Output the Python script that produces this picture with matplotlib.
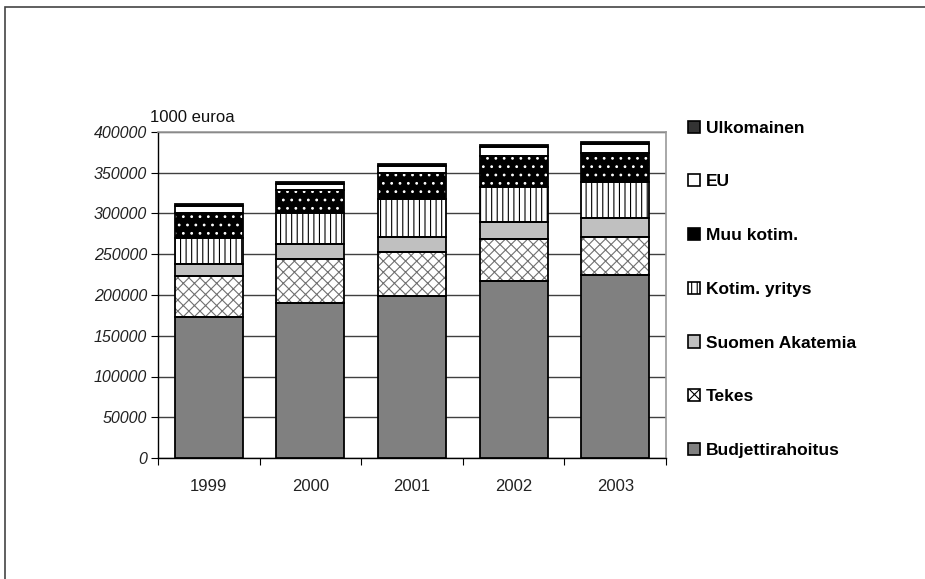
import numpy as np
import matplotlib
matplotlib.use("Agg")
import matplotlib.pyplot as plt
from matplotlib.patches import Rectangle, Patch

years = ["1999", "2000", "2001", "2002", "2003"]
budjetti = [173000, 190000, 199000, 217500, 224500]
tekes = [50500, 54000, 53500, 51000, 47000]
akatemia = [14500, 18800, 19000, 21200, 22600]
kotim_yritys = [31500, 37500, 46000, 43000, 44200]
muu_kotim = [31500, 28500, 32700, 37700, 35600]
eu = [8200, 7400, 8200, 10600, 11400]
ulkomainen = [2100, 2800, 2800, 2500, 2800]

series = [
    ("Budjettirahoitus", budjetti, "#808080", "#808080", ""),
    ("Tekes", tekes, "white", "#707070", "xxx"),
    ("Suomen Akatemia", akatemia, "#c0c0c0", "#c0c0c0", ""),
    ("Kotim. yritys", kotim_yritys, "white", "black", "|||"),
    ("Muu kotim.", muu_kotim, "black", "white", ".."),
    ("EU", eu, "white", "white", ""),
    ("Ulkomainen", ulkomainen, "#333333", "#333333", ""),
]

plt.rcParams["font.family"] = ["Liberation Sans", "DejaVu Sans"]
plt.rcParams["hatch.linewidth"] = 0.8

fig = plt.figure(figsize=(9.25, 5.79), dpi=100)
ax = fig.add_axes([158 / 925, 121 / 579, 508 / 925, 326 / 579])

x = np.arange(len(years))
w = 0.67
bottom = np.zeros(len(years))
handles = []
for name, vals, fc, hc, hatch in series:
    vals = np.array(vals, dtype=float)
    # fill + hatch (hatch colour comes from edgecolor)
    ax.bar(x, vals, w, bottom=bottom, color=fc, edgecolor=hc, hatch=hatch,
           linewidth=0, zorder=3)
    # black outline
    ax.bar(x, vals, w, bottom=bottom, fill=False, edgecolor="black",
           linewidth=1.3, zorder=4)
    handles.append(Patch(facecolor=fc, edgecolor="black", hatch=hatch, linewidth=1.2))
    bottom += vals

ax.set_xlim(-0.5, len(years) - 0.5)
ax.set_ylim(0, 400000)
ax.set_yticks(np.arange(0, 400001, 50000))
ax.set_yticklabels([str(v) for v in range(0, 400001, 50000)],
                   fontsize=11.5, color="#222222")
for lab in ax.get_yticklabels():
    lab.set_fontstyle("italic")
ax.set_xticks(np.arange(-0.5, len(years), 1.0))
ax.set_xticklabels([])
ax.set_xticks(x, minor=True)
ax.set_xticklabels(years, minor=True, fontsize=12, color="#222222")
ax.tick_params(axis="x", which="minor", length=0, pad=15)
ax.tick_params(axis="x", which="major", length=5, direction="out", color="black")
ax.tick_params(axis="y", length=5, direction="out", pad=3)

ax.yaxis.grid(True, color="#404040", linewidth=1.0, zorder=0)
ax.set_axisbelow(True)
for s in ["left", "bottom"]:
    ax.spines[s].set_color("black")
    ax.spines[s].set_linewidth(1.0)
for s in ["top", "right"]:
    ax.spines[s].set_color("#999999")
    ax.spines[s].set_linewidth(1.2)

fig.text(150 / 925, 1 - 122 / 579, "1000 euroa", fontsize=12, color="#111111",
         va="baseline", ha="left")

leg = fig.legend(handles[::-1], [s[0] for s in series][::-1],
                 loc="upper left", bbox_to_anchor=(672 / 925, 1 - 105 / 579),
                 frameon=False, handlelength=0.7, handleheight=0.7,
                 handletextpad=0.35, labelspacing=2.22,
                 prop={"family": ["Liberation Sans Narrow", "Liberation Sans", "DejaVu Sans"],
                       "weight": "bold", "size": 12.5})

# outer frame (only left and top edges fall inside the picture)
fig.patches.append(Rectangle((5 / 925, -0.05), 1.1, 1 - 7 / 579 + 0.05,
                             transform=fig.transFigure, fill=False,
                             edgecolor="#444444", linewidth=1.2))

fig.savefig("out.png", dpi=100)
